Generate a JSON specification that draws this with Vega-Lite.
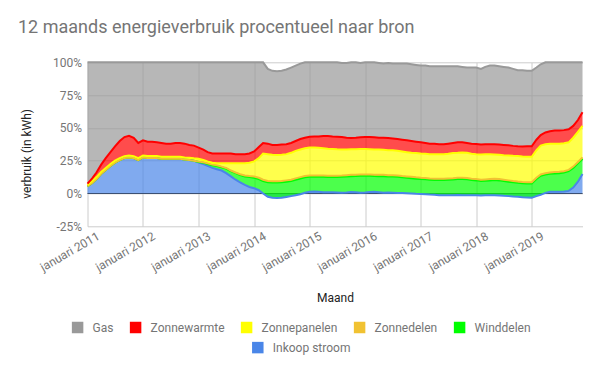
{
  "$schema": "https://vega.github.io/schema/vega-lite/v6.json",
  "width": 495,
  "height": 164,
  "autosize": "none",
  "padding": {"left": 87.5, "top": 62.3, "right": 17.5, "bottom": 144.7},
  "background": "white",
  "config": {"font": "Roboto", "view": {"stroke": null}},
  "title": {"text": "12 maands energieverbruik procentueel naar bron", "anchor": "start", "frame": "group", "dx": -69.5, "offset": 5, "fontSize": 18, "fontWeight": "normal", "color": "#757575", "font": "Roboto", "baseline": "alphabetic"},
  "data": {"values": [
    {"date":"2011-01-01","Inkoop stroom":5.5,"Winddelen":0,"Zonnedelen":0,"Zonnepanelen":1,"Zonnewarmte":1,"Gas":92.5},
    {"date":"2011-02-01","Inkoop stroom":8,"Winddelen":0,"Zonnedelen":0,"Zonnepanelen":1.5,"Zonnewarmte":2,"Gas":88.5},
    {"date":"2011-03-01","Inkoop stroom":11,"Winddelen":0,"Zonnedelen":0,"Zonnepanelen":1.5,"Zonnewarmte":3.5,"Gas":84},
    {"date":"2011-04-01","Inkoop stroom":15,"Winddelen":0,"Zonnedelen":0,"Zonnepanelen":1.5,"Zonnewarmte":5.5,"Gas":78},
    {"date":"2011-05-01","Inkoop stroom":18,"Winddelen":0,"Zonnedelen":0,"Zonnepanelen":1.5,"Zonnewarmte":7.5,"Gas":73},
    {"date":"2011-06-01","Inkoop stroom":21,"Winddelen":0,"Zonnedelen":0,"Zonnepanelen":1.5,"Zonnewarmte":9,"Gas":68.5},
    {"date":"2011-07-01","Inkoop stroom":23.5,"Winddelen":0,"Zonnedelen":0,"Zonnepanelen":1.5,"Zonnewarmte":11,"Gas":64},
    {"date":"2011-08-01","Inkoop stroom":25.5,"Winddelen":0,"Zonnedelen":0,"Zonnepanelen":1.5,"Zonnewarmte":13,"Gas":60},
    {"date":"2011-09-01","Inkoop stroom":27,"Winddelen":0,"Zonnedelen":0,"Zonnepanelen":1.5,"Zonnewarmte":14.5,"Gas":57},
    {"date":"2011-10-01","Inkoop stroom":27.5,"Winddelen":0,"Zonnedelen":0,"Zonnepanelen":1.5,"Zonnewarmte":15,"Gas":56},
    {"date":"2011-11-01","Inkoop stroom":27,"Winddelen":0,"Zonnedelen":0,"Zonnepanelen":1.5,"Zonnewarmte":14,"Gas":57.5},
    {"date":"2011-12-01","Inkoop stroom":25.5,"Winddelen":0,"Zonnedelen":0,"Zonnepanelen":1.5,"Zonnewarmte":11.5,"Gas":61.5},
    {"date":"2012-01-01","Inkoop stroom":27.5,"Winddelen":0,"Zonnedelen":0,"Zonnepanelen":1.5,"Zonnewarmte":11.5,"Gas":59.5},
    {"date":"2012-02-01","Inkoop stroom":27,"Winddelen":0,"Zonnedelen":0,"Zonnepanelen":1.5,"Zonnewarmte":11,"Gas":60.5},
    {"date":"2012-03-01","Inkoop stroom":27,"Winddelen":0,"Zonnedelen":0,"Zonnepanelen":1.5,"Zonnewarmte":11,"Gas":60.5},
    {"date":"2012-04-01","Inkoop stroom":27,"Winddelen":0,"Zonnedelen":0,"Zonnepanelen":1.5,"Zonnewarmte":10.5,"Gas":61},
    {"date":"2012-05-01","Inkoop stroom":26.5,"Winddelen":0,"Zonnedelen":0,"Zonnepanelen":1.5,"Zonnewarmte":10.5,"Gas":61.5},
    {"date":"2012-06-01","Inkoop stroom":26.5,"Winddelen":0,"Zonnedelen":0,"Zonnepanelen":1.5,"Zonnewarmte":10,"Gas":62},
    {"date":"2012-07-01","Inkoop stroom":26.5,"Winddelen":0,"Zonnedelen":0,"Zonnepanelen":1.5,"Zonnewarmte":10,"Gas":62},
    {"date":"2012-08-01","Inkoop stroom":26.5,"Winddelen":0,"Zonnedelen":0,"Zonnepanelen":1.5,"Zonnewarmte":10.5,"Gas":61.5},
    {"date":"2012-09-01","Inkoop stroom":26.5,"Winddelen":0,"Zonnedelen":0,"Zonnepanelen":1.5,"Zonnewarmte":10.5,"Gas":61.5},
    {"date":"2012-10-01","Inkoop stroom":26,"Winddelen":0,"Zonnedelen":0,"Zonnepanelen":1.5,"Zonnewarmte":10.5,"Gas":62},
    {"date":"2012-11-01","Inkoop stroom":25.5,"Winddelen":0,"Zonnedelen":0,"Zonnepanelen":1.7,"Zonnewarmte":9.8,"Gas":63},
    {"date":"2012-12-01","Inkoop stroom":25,"Winddelen":0,"Zonnedelen":0,"Zonnepanelen":1.8,"Zonnewarmte":9.7,"Gas":63.5},
    {"date":"2013-01-01","Inkoop stroom":23.5,"Winddelen":0.5,"Zonnedelen":0.3,"Zonnepanelen":2.2,"Zonnewarmte":8.5,"Gas":65},
    {"date":"2013-02-01","Inkoop stroom":22.5,"Winddelen":1,"Zonnedelen":0.3,"Zonnepanelen":1.7,"Zonnewarmte":8,"Gas":66.5},
    {"date":"2013-03-01","Inkoop stroom":21,"Winddelen":1.5,"Zonnedelen":0.5,"Zonnepanelen":1.5,"Zonnewarmte":7,"Gas":68.5},
    {"date":"2013-04-01","Inkoop stroom":19.5,"Winddelen":2,"Zonnedelen":0.5,"Zonnepanelen":1.5,"Zonnewarmte":7,"Gas":69.5},
    {"date":"2013-05-01","Inkoop stroom":18.5,"Winddelen":2.5,"Zonnedelen":0.5,"Zonnepanelen":1.5,"Zonnewarmte":7.5,"Gas":69.5},
    {"date":"2013-06-01","Inkoop stroom":17.5,"Winddelen":2.5,"Zonnedelen":0.5,"Zonnepanelen":2.5,"Zonnewarmte":7.5,"Gas":69.5},
    {"date":"2013-07-01","Inkoop stroom":15.5,"Winddelen":3.5,"Zonnedelen":0.5,"Zonnepanelen":3.5,"Zonnewarmte":7.5,"Gas":69.5},
    {"date":"2013-08-01","Inkoop stroom":13,"Winddelen":4,"Zonnedelen":0.5,"Zonnepanelen":5.5,"Zonnewarmte":7.5,"Gas":69.5},
    {"date":"2013-09-01","Inkoop stroom":10.5,"Winddelen":5,"Zonnedelen":0.5,"Zonnepanelen":7,"Zonnewarmte":7,"Gas":70},
    {"date":"2013-10-01","Inkoop stroom":8.5,"Winddelen":5.5,"Zonnedelen":0.7,"Zonnepanelen":8.3,"Zonnewarmte":7,"Gas":70},
    {"date":"2013-11-01","Inkoop stroom":6.5,"Winddelen":6.5,"Zonnedelen":0.8,"Zonnepanelen":9.2,"Zonnewarmte":7,"Gas":70},
    {"date":"2013-12-01","Inkoop stroom":5,"Winddelen":7.5,"Zonnedelen":0.8,"Zonnepanelen":10.2,"Zonnewarmte":7,"Gas":69.5},
    {"date":"2014-01-01","Inkoop stroom":4,"Winddelen":8,"Zonnedelen":1,"Zonnepanelen":11.5,"Zonnewarmte":7.5,"Gas":68},
    {"date":"2014-02-01","Inkoop stroom":2.5,"Winddelen":8.5,"Zonnedelen":1,"Zonnepanelen":15,"Zonnewarmte":8.5,"Gas":64.5},
    {"date":"2014-03-01","Inkoop stroom":0,"Winddelen":9.5,"Zonnedelen":1,"Zonnepanelen":20,"Zonnewarmte":8,"Gas":61.5},
    {"date":"2014-04-01","Inkoop stroom":-2.5,"Winddelen":11,"Zonnedelen":1,"Zonnepanelen":20.5,"Zonnewarmte":8,"Gas":57},
    {"date":"2014-05-01","Inkoop stroom":-3.3,"Winddelen":11.6,"Zonnedelen":1,"Zonnepanelen":20.2,"Zonnewarmte":7.5,"Gas":56.5},
    {"date":"2014-06-01","Inkoop stroom":-3.5,"Winddelen":11.8,"Zonnedelen":1,"Zonnepanelen":20,"Zonnewarmte":7.7,"Gas":56.2},
    {"date":"2014-07-01","Inkoop stroom":-3.3,"Winddelen":11.8,"Zonnedelen":1,"Zonnepanelen":20,"Zonnewarmte":7.8,"Gas":56.2},
    {"date":"2014-08-01","Inkoop stroom":-2.7,"Winddelen":11.7,"Zonnedelen":1,"Zonnepanelen":20,"Zonnewarmte":7.5,"Gas":57},
    {"date":"2014-09-01","Inkoop stroom":-2,"Winddelen":11.5,"Zonnedelen":1,"Zonnepanelen":20.5,"Zonnewarmte":7.5,"Gas":57.5},
    {"date":"2014-10-01","Inkoop stroom":-1.3,"Winddelen":11.8,"Zonnedelen":1,"Zonnepanelen":21,"Zonnewarmte":7.5,"Gas":57.5},
    {"date":"2014-11-01","Inkoop stroom":-0.5,"Winddelen":12,"Zonnedelen":1,"Zonnepanelen":21,"Zonnewarmte":8,"Gas":57.5},
    {"date":"2014-12-01","Inkoop stroom":0.5,"Winddelen":11.8,"Zonnedelen":1,"Zonnepanelen":21.2,"Zonnewarmte":8,"Gas":57.5},
    {"date":"2015-01-01","Inkoop stroom":1.3,"Winddelen":11.4,"Zonnedelen":1,"Zonnepanelen":21.3,"Zonnewarmte":8.3,"Gas":56.7},
    {"date":"2015-02-01","Inkoop stroom":1.5,"Winddelen":11.3,"Zonnedelen":1,"Zonnepanelen":21.2,"Zonnewarmte":8.5,"Gas":56.5},
    {"date":"2015-03-01","Inkoop stroom":1.3,"Winddelen":11.5,"Zonnedelen":1,"Zonnepanelen":21,"Zonnewarmte":8.7,"Gas":56.5},
    {"date":"2015-04-01","Inkoop stroom":1,"Winddelen":11.7,"Zonnedelen":1,"Zonnepanelen":20.8,"Zonnewarmte":9.3,"Gas":56.2},
    {"date":"2015-05-01","Inkoop stroom":1,"Winddelen":11.5,"Zonnedelen":1,"Zonnepanelen":20.7,"Zonnewarmte":9.6,"Gas":56.2},
    {"date":"2015-06-01","Inkoop stroom":1,"Winddelen":11.5,"Zonnedelen":1,"Zonnepanelen":20.5,"Zonnewarmte":9.5,"Gas":56.5},
    {"date":"2015-07-01","Inkoop stroom":0.8,"Winddelen":11.7,"Zonnedelen":1,"Zonnepanelen":20.2,"Zonnewarmte":9.6,"Gas":56.7},
    {"date":"2015-08-01","Inkoop stroom":0.5,"Winddelen":12.2,"Zonnedelen":1,"Zonnepanelen":19.8,"Zonnewarmte":9.5,"Gas":56.5},
    {"date":"2015-09-01","Inkoop stroom":0.8,"Winddelen":12.2,"Zonnedelen":1,"Zonnepanelen":19.5,"Zonnewarmte":9,"Gas":57},
    {"date":"2015-10-01","Inkoop stroom":1.2,"Winddelen":12,"Zonnedelen":1,"Zonnepanelen":19.5,"Zonnewarmte":8.6,"Gas":57.7},
    {"date":"2015-11-01","Inkoop stroom":1,"Winddelen":12.3,"Zonnedelen":1,"Zonnepanelen":19.5,"Zonnewarmte":8.7,"Gas":57.5},
    {"date":"2015-12-01","Inkoop stroom":0.5,"Winddelen":13,"Zonnedelen":1,"Zonnepanelen":19.5,"Zonnewarmte":8.8,"Gas":56.7},
    {"date":"2016-01-01","Inkoop stroom":0.8,"Winddelen":12.7,"Zonnedelen":1,"Zonnepanelen":19.5,"Zonnewarmte":9,"Gas":57},
    {"date":"2016-02-01","Inkoop stroom":1.2,"Winddelen":12.3,"Zonnedelen":1,"Zonnepanelen":19.3,"Zonnewarmte":9.2,"Gas":57},
    {"date":"2016-03-01","Inkoop stroom":1.3,"Winddelen":12,"Zonnedelen":1,"Zonnepanelen":19.2,"Zonnewarmte":9.3,"Gas":57.2},
    {"date":"2016-04-01","Inkoop stroom":1,"Winddelen":12.2,"Zonnedelen":1,"Zonnepanelen":19.3,"Zonnewarmte":9,"Gas":57},
    {"date":"2016-05-01","Inkoop stroom":0.5,"Winddelen":12.7,"Zonnedelen":1,"Zonnepanelen":19.1,"Zonnewarmte":9.2,"Gas":56.5},
    {"date":"2016-06-01","Inkoop stroom":0.7,"Winddelen":12.3,"Zonnedelen":1,"Zonnepanelen":19,"Zonnewarmte":9.3,"Gas":57.2},
    {"date":"2016-07-01","Inkoop stroom":0.5,"Winddelen":12.5,"Zonnedelen":1,"Zonnepanelen":19,"Zonnewarmte":9,"Gas":57},
    {"date":"2016-08-01","Inkoop stroom":0.3,"Winddelen":12.4,"Zonnedelen":1,"Zonnepanelen":18.8,"Zonnewarmte":9,"Gas":57.5},
    {"date":"2016-09-01","Inkoop stroom":0.3,"Winddelen":12,"Zonnedelen":1,"Zonnepanelen":18.7,"Zonnewarmte":9,"Gas":58},
    {"date":"2016-10-01","Inkoop stroom":0.2,"Winddelen":11.8,"Zonnedelen":1,"Zonnepanelen":18.5,"Zonnewarmte":9,"Gas":58.5},
    {"date":"2016-11-01","Inkoop stroom":0,"Winddelen":11.7,"Zonnedelen":1,"Zonnepanelen":18.3,"Zonnewarmte":9,"Gas":58.5},
    {"date":"2016-12-01","Inkoop stroom":-0.2,"Winddelen":11.5,"Zonnedelen":1,"Zonnepanelen":18.5,"Zonnewarmte":8.7,"Gas":58.5},
    {"date":"2017-01-01","Inkoop stroom":-0.3,"Winddelen":11.3,"Zonnedelen":1,"Zonnepanelen":18.5,"Zonnewarmte":8.5,"Gas":58.5},
    {"date":"2017-02-01","Inkoop stroom":-0.5,"Winddelen":11.3,"Zonnedelen":1,"Zonnepanelen":18.5,"Zonnewarmte":8.2,"Gas":59},
    {"date":"2017-03-01","Inkoop stroom":-0.8,"Winddelen":11.3,"Zonnedelen":1,"Zonnepanelen":18.5,"Zonnewarmte":8,"Gas":59},
    {"date":"2017-04-01","Inkoop stroom":-1,"Winddelen":11.3,"Zonnedelen":1,"Zonnepanelen":18.7,"Zonnewarmte":8,"Gas":59},
    {"date":"2017-05-01","Inkoop stroom":-1.3,"Winddelen":11.5,"Zonnedelen":1,"Zonnepanelen":18.8,"Zonnewarmte":7.5,"Gas":59.5},
    {"date":"2017-06-01","Inkoop stroom":-1.3,"Winddelen":11.5,"Zonnedelen":1,"Zonnepanelen":18.8,"Zonnewarmte":7.5,"Gas":59.5},
    {"date":"2017-07-01","Inkoop stroom":-1.3,"Winddelen":11.8,"Zonnedelen":1,"Zonnepanelen":18.8,"Zonnewarmte":7.7,"Gas":59},
    {"date":"2017-08-01","Inkoop stroom":-1.3,"Winddelen":12,"Zonnedelen":1,"Zonnepanelen":19.1,"Zonnewarmte":7.7,"Gas":58.5},
    {"date":"2017-09-01","Inkoop stroom":-1.2,"Winddelen":12.2,"Zonnedelen":1,"Zonnepanelen":19,"Zonnewarmte":8,"Gas":58},
    {"date":"2017-10-01","Inkoop stroom":-1.3,"Winddelen":12.3,"Zonnedelen":1,"Zonnepanelen":19.3,"Zonnewarmte":7.7,"Gas":57.5},
    {"date":"2017-11-01","Inkoop stroom":-1.3,"Winddelen":12.1,"Zonnedelen":1,"Zonnepanelen":19.2,"Zonnewarmte":7.5,"Gas":57.5},
    {"date":"2017-12-01","Inkoop stroom":-1.3,"Winddelen":11.6,"Zonnedelen":1,"Zonnepanelen":19,"Zonnewarmte":7.7,"Gas":58},
    {"date":"2018-01-01","Inkoop stroom":-1.3,"Winddelen":11.3,"Zonnedelen":1,"Zonnepanelen":19,"Zonnewarmte":7.8,"Gas":58.2},
    {"date":"2018-02-01","Inkoop stroom":-1.5,"Winddelen":11,"Zonnedelen":1,"Zonnepanelen":19.3,"Zonnewarmte":7.6,"Gas":57.6},
    {"date":"2018-03-01","Inkoop stroom":-1.3,"Winddelen":11,"Zonnedelen":1,"Zonnepanelen":19.3,"Zonnewarmte":7.5,"Gas":59},
    {"date":"2018-04-01","Inkoop stroom":-1.3,"Winddelen":11.3,"Zonnedelen":1,"Zonnepanelen":19,"Zonnewarmte":7.5,"Gas":60},
    {"date":"2018-05-01","Inkoop stroom":-1.3,"Winddelen":11.5,"Zonnedelen":1,"Zonnepanelen":18.6,"Zonnewarmte":7.7,"Gas":60},
    {"date":"2018-06-01","Inkoop stroom":-1.5,"Winddelen":11.5,"Zonnedelen":1,"Zonnepanelen":18.5,"Zonnewarmte":7.8,"Gas":59.7},
    {"date":"2018-07-01","Inkoop stroom":-1.8,"Winddelen":11.3,"Zonnedelen":1,"Zonnepanelen":18.7,"Zonnewarmte":7.8,"Gas":59.5},
    {"date":"2018-08-01","Inkoop stroom":-2,"Winddelen":11,"Zonnedelen":1,"Zonnepanelen":19,"Zonnewarmte":7.7,"Gas":59.3},
    {"date":"2018-09-01","Inkoop stroom":-2.3,"Winddelen":10.8,"Zonnedelen":1,"Zonnepanelen":19.2,"Zonnewarmte":7.6,"Gas":58.7},
    {"date":"2018-10-01","Inkoop stroom":-2.5,"Winddelen":10.6,"Zonnedelen":1,"Zonnepanelen":19.4,"Zonnewarmte":7.5,"Gas":58},
    {"date":"2018-11-01","Inkoop stroom":-2.8,"Winddelen":10.6,"Zonnedelen":1,"Zonnepanelen":19.4,"Zonnewarmte":7.6,"Gas":58.2},
    {"date":"2018-12-01","Inkoop stroom":-3,"Winddelen":10.6,"Zonnedelen":1,"Zonnepanelen":19.4,"Zonnewarmte":8,"Gas":57.5},
    {"date":"2019-01-01","Inkoop stroom":-3.3,"Winddelen":10.9,"Zonnedelen":1,"Zonnepanelen":19.4,"Zonnewarmte":8,"Gas":57.5},
    {"date":"2019-02-01","Inkoop stroom":-2,"Winddelen":13,"Zonnedelen":1,"Zonnepanelen":21,"Zonnewarmte":8,"Gas":55},
    {"date":"2019-03-01","Inkoop stroom":-1,"Winddelen":14.5,"Zonnedelen":1,"Zonnepanelen":22,"Zonnewarmte":8,"Gas":54},
    {"date":"2019-04-01","Inkoop stroom":0.5,"Winddelen":14,"Zonnedelen":1,"Zonnepanelen":22,"Zonnewarmte":9,"Gas":53.5},
    {"date":"2019-05-01","Inkoop stroom":1.3,"Winddelen":13.7,"Zonnedelen":1,"Zonnepanelen":22,"Zonnewarmte":9.5,"Gas":52.5},
    {"date":"2019-06-01","Inkoop stroom":1.3,"Winddelen":14,"Zonnedelen":1,"Zonnepanelen":21.7,"Zonnewarmte":10,"Gas":52},
    {"date":"2019-07-01","Inkoop stroom":1.3,"Winddelen":14.2,"Zonnedelen":1,"Zonnepanelen":21.5,"Zonnewarmte":10,"Gas":52},
    {"date":"2019-08-01","Inkoop stroom":1.5,"Winddelen":14.5,"Zonnedelen":1,"Zonnepanelen":21.3,"Zonnewarmte":10,"Gas":51.7},
    {"date":"2019-09-01","Inkoop stroom":2,"Winddelen":15,"Zonnedelen":1,"Zonnepanelen":21,"Zonnewarmte":10,"Gas":51},
    {"date":"2019-10-01","Inkoop stroom":4.5,"Winddelen":15,"Zonnedelen":1,"Zonnepanelen":22,"Zonnewarmte":9,"Gas":48.5},
    {"date":"2019-11-01","Inkoop stroom":9,"Winddelen":14,"Zonnedelen":1,"Zonnepanelen":23,"Zonnewarmte":9,"Gas":44},
    {"date":"2019-12-01","Inkoop stroom":14.8,"Winddelen":11.7,"Zonnedelen":1,"Zonnepanelen":24,"Zonnewarmte":10.5,"Gas":38}
  ]},
  "transform": [
    {"fold": ["Inkoop stroom", "Winddelen", "Zonnedelen", "Zonnepanelen", "Zonnewarmte", "Gas"], "as": ["bron", "waarde"]},
    {"window": [{"op": "sum", "field": "waarde", "as": "boven"}], "groupby": ["date"], "frame": [null, 0]},
    {"calculate": "datum.boven - datum.waarde", "as": "onder"}
  ],
  "layer": [
    {
      "transform": [{"aggregate": [{"op": "count", "as": "n"}]}],
      "mark": {"type": "rule", "color": "#333333", "strokeWidth": 1},
      "encoding": {"y": {"datum": 0, "type": "quantitative", "scale": {"domain": [-25, 100], "nice": false},
              "axis": {"title": "verbruik (in kWh)", "values": [-25, 0, 25, 50, 75, 100], "tickCount": 12, "labelExpr": "datum.value + '%'", "labelColor": "#757575", "labelFontSize": 12, "labelFont": "Roboto", "domain": false, "ticks": false, "tickSize": 0, "labelPadding": 6, "labelOverlap": false, "labelFlush": false, "grid": true, "gridColor": "#cccccc", "titleColor": "#222222", "titleFontSize": 12, "titleFontWeight": "normal", "titleFont": "Roboto", "titlePadding": 19, "titleY": 91}}}
    },
    {
      "transform": [{"filter": "datum.bron === 'Inkoop stroom'"}],
      "mark": {"type": "area", "fillOpacity": 0.7, "interpolate": "linear"},
      "encoding": {
        "x": {"field": "date", "type": "temporal", "scale": {"type": "utc", "domain": [{"year": 2011, "month": 1, "date": 1, "utc": true}, {"year": 2019, "month": 12, "date": 1, "utc": true}]},
              "axis": {"title": "Maand", "labelExpr": "'januari ' + utcFormat(datum.value, '%Y')", "tickCount": {"interval": "year", "step": 1}, "labelAngle": -30, "labelColor": "#757575", "labelFontSize": 12, "labelFont": "Roboto", "domain": false, "ticks": false, "tickSize": 0, "grid": true, "gridColor": "#cccccc", "titleColor": "#222222", "titleFontSize": 12, "titleFontWeight": "normal", "titleFont": "Roboto", "titlePadding": 20, "labelPadding": 4, "labelOffset": 8, "labelOverlap": false, "labelFlush": false}},
        "y": {"field": "boven", "type": "quantitative", "scale": {"domain": [-25, 100], "nice": false},
              "axis": {"title": "verbruik (in kWh)", "values": [-25, 0, 25, 50, 75, 100], "tickCount": 12, "labelExpr": "datum.value + '%'", "labelColor": "#757575", "labelFontSize": 12, "labelFont": "Roboto", "domain": false, "ticks": false, "tickSize": 0, "labelPadding": 6, "labelOverlap": false, "labelFlush": false, "grid": true, "gridColor": "#cccccc", "titleColor": "#222222", "titleFontSize": 12, "titleFontWeight": "normal", "titleFont": "Roboto", "titlePadding": 19, "titleY": 91}},
        "y2": {"field": "onder"},
        "fill": {"field": "bron", "type": "nominal", "scale": {"domain": ["Inkoop stroom"], "range": ["#4a86e8"]},
                 "legend": {"orient": "none", "legendX": 164.3, "legendY": 279.3, "direction": "horizontal", "columns": 1, "title": null, "symbolType": "square", "symbolSize": 132, "labelOffset": 9, "labelFontSize": 12, "labelColor": "#757575", "labelFont": "Roboto", "padding": 0, "symbolOpacity": 1, "symbolStrokeWidth": 0}}
      }
    },
    {
      "transform": [{"filter": "datum.bron !== 'Inkoop stroom'"}],
      "mark": {"type": "area", "fillOpacity": 0.7, "interpolate": "linear"},
      "encoding": {
        "x": {"field": "date", "type": "temporal"},
        "y": {"field": "boven", "type": "quantitative"},
        "y2": {"field": "onder"},
        "fill": {"field": "bron", "type": "nominal", "scale": {"domain": ["Gas", "Zonnewarmte", "Zonnepanelen", "Zonnedelen", "Winddelen"], "range": ["#999999", "#ff0000", "#ffff00", "#f1c232", "#00ff00"]},
                 "legend": {"orient": "none", "legendX": -15.9, "legendY": 259.2, "direction": "horizontal", "columns": 5, "columnPadding": 16, "title": null, "symbolType": "square", "symbolSize": 132, "labelOffset": 9, "labelFontSize": 12, "labelColor": "#757575", "labelFont": "Roboto", "padding": 0, "symbolOpacity": 1, "symbolStrokeWidth": 0}}
      }
    },
    {
      "mark": {"type": "line", "strokeWidth": 2, "interpolate": "linear"},
      "encoding": {
        "x": {"field": "date", "type": "temporal"},
        "y": {"field": "boven", "type": "quantitative"},
        "stroke": {"field": "bron", "type": "nominal", "scale": {"domain": ["Inkoop stroom", "Winddelen", "Zonnedelen", "Zonnepanelen", "Zonnewarmte", "Gas"], "range": ["#4a86e8", "#00ff00", "#f1c232", "#ffff00", "#ff0000", "#999999"]}, "legend": null}
      }
    }
  ],
  "resolve": {"scale": {"fill": "independent"}, "legend": {"fill": "independent"}}
}
